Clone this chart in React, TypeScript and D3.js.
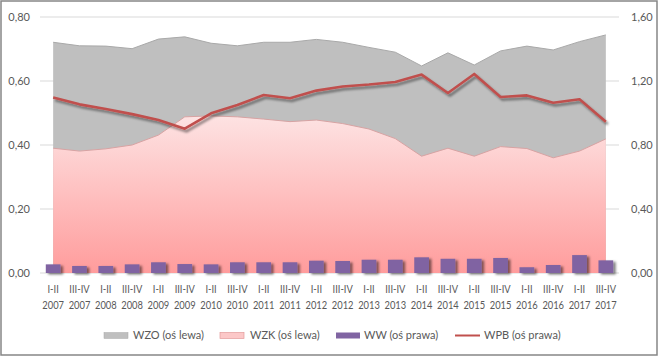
import React from "react";
import * as d3 from "d3";

const periods = ["I-II","III-IV","I-II","III-IV","I-II","III-IV","I-II","III-IV","I-II","III-IV","I-II","III-IV","I-II","III-IV","I-II","III-IV","I-II","III-IV","I-II","III-IV","I-II","III-IV"];
const years = ["2007","2007","2008","2008","2009","2009","2010","2010","2011","2011","2012","2012","2013","2013","2014","2014","2015","2015","2016","2016","2017","2017"];

// left axis
const WZO = [0.721,0.710,0.709,0.701,0.731,0.738,0.718,0.710,0.721,0.721,0.730,0.721,0.705,0.690,0.647,0.688,0.650,0.694,0.709,0.697,0.723,0.744];
const WZK = [0.390,0.381,0.388,0.400,0.431,0.488,0.491,0.488,0.481,0.473,0.478,0.467,0.450,0.420,0.365,0.390,0.365,0.395,0.389,0.360,0.381,0.419];
// right axis
const WW = [0.054,0.044,0.044,0.054,0.067,0.056,0.054,0.067,0.067,0.067,0.077,0.075,0.083,0.083,0.098,0.089,0.089,0.094,0.036,0.050,0.112,0.079];
const WPB = [1.097,1.054,1.025,0.993,0.956,0.902,0.998,1.050,1.112,1.092,1.140,1.166,1.178,1.194,1.240,1.125,1.244,1.100,1.110,1.064,1.086,0.946];

const leftTicks = [0, 0.2, 0.4, 0.6, 0.8];
const rightTicks = [0, 0.4, 0.8, 1.2, 1.6];
const legendLabels = ["WZO (oś lewa)", "WZK (oś lewa)", "WW (oś prawa)", "WPB (oś prawa)"];

const W = 659, H = 357;
const plot = { left: 40, right: 619, top: 17, bottom: 273 };
const FONT = "Lato, 'Open Sans', 'DejaVu Sans', sans-serif";
const TXT = "#595959";

export default function App() {
  const idx = d3.range(periods.length);
  const x = d3.scaleBand<number>().domain(idx).range([plot.left, plot.right]).padding(0);
  const bw = x.bandwidth();
  const cx = (i: number) => (x(i) as number) + bw / 2;
  const yL = d3.scaleLinear().domain([0, 0.8]).range([plot.bottom, plot.top]);
  const yR = d3.scaleLinear().domain([0, 1.6]).range([plot.bottom, plot.top]);
  const fmt = (v: number) => v.toFixed(2).replace(".", ",");

  const areaL = (vals: number[]) =>
    d3.area<number>().x((_, i) => cx(i)).y0(yL(0)).y1((d) => yL(d))(vals) as string;
  const lineTop = (vals: number[]) =>
    d3.line<number>().x((_, i) => cx(i)).y((d) => yL(d))(vals) as string;
  const wpbLine = d3.line<number>().x((_, i) => cx(i)).y((d) => yR(d))(WPB) as string;
  const barW = bw * 0.56;

  const legendX = [104, 220, 336, 455];

  return (
    <div style={{ position: "fixed", left: 0, top: 0, width: W, height: H }}>
      <svg width={W} height={H} style={{ display: "block" }} fontFamily={FONT}>
        <defs>
          <linearGradient id="pinkGrad" gradientUnits="userSpaceOnUse" x1="0" y1={yL(0.5)} x2="0" y2={yL(0)}>
            <stop offset="0" stopColor="#fde4e4" />
            <stop offset="1" stopColor="#ff9c9c" />
          </linearGradient>
          <filter id="shadow" x="-20%" y="-20%" width="150%" height="160%">
            <feDropShadow dx="2" dy="2.5" stdDeviation="1.3" floodColor="#000" floodOpacity="0.45" />
          </filter>
          <filter id="barShadow" x="-30%" y="-30%" width="170%" height="170%">
            <feDropShadow dx="2.5" dy="1.5" stdDeviation="1.2" floodColor="#000" floodOpacity="0.5" />
          </filter>
        </defs>
        <rect x={0} y={0} width={W} height={H} fill="#fff" />
        <rect x={1} y={1} width={W - 3} height={H - 3} fill="none" stroke="#868686" strokeWidth={1.5} />

        {leftTicks.map((t) => (
          <line key={"g" + t} x1={plot.left} x2={plot.right} y1={yL(t)} y2={yL(t)} stroke="#d9d9d9" strokeWidth={1} />
        ))}

        <path d={areaL(WZO)} fill="#bfbfbf" />
        <path d={lineTop(WZO)} fill="none" stroke="#a9a9a9" strokeWidth={1} />
        <path d={areaL(WZK)} fill="url(#pinkGrad)" />
        <path d={lineTop(WZK)} fill="none" stroke="#d7a3a3" strokeWidth={1} />

        {WW.map((v, i) => (
          <rect key={"b" + i} x={cx(i) - barW / 2} y={yR(v)} width={barW} height={yR(0) - yR(v)} fill="#8064a2" filter="url(#barShadow)" />
        ))}

        <path d={wpbLine} fill="none" stroke="#c0504d" strokeWidth={2.6} strokeLinejoin="round" filter="url(#shadow)" />

        {leftTicks.map((t) => (
          <text key={"l" + t} x={30} y={yL(t)} dy="0.35em" textAnchor="end" fontSize={11} fill={TXT}>{fmt(t)}</text>
        ))}
        {rightTicks.map((t) => (
          <text key={"r" + t} x={631} y={yR(t)} dy="0.35em" textAnchor="start" fontSize={11} fill={TXT}>{fmt(t)}</text>
        ))}

        {idx.map((i) => (
          <g key={"x" + i} transform={`translate(${cx(i)},0) scale(0.85,1)`}>
            <text x={0} y={289} dy="0.35em" textAnchor="middle" fontSize={11} fill={TXT}>{periods[i]}</text>
            <text x={0} y={305.5} dy="0.35em" textAnchor="middle" fontSize={11} fill={TXT}>{years[i]}</text>
          </g>
        ))}

        <g fontSize={11} fill={TXT}>
          <rect x={legendX[0]} y={332.5} width={24} height={6} fill="#bfbfbf" stroke="#a9a9a9" strokeWidth={0.5} />
          <text x={legendX[0] + 29} y={335.5} dy="0.35em">{legendLabels[0]}</text>
          <rect x={legendX[1]} y={332.5} width={24} height={6} fill="#fcc8c8" stroke="#e39a9a" strokeWidth={0.7} />
          <text x={legendX[1] + 30} y={335.5} dy="0.35em">{legendLabels[1]}</text>
          <rect x={legendX[2]} y={332.5} width={24} height={6} fill="#8064a2" />
          <text x={legendX[2] + 28} y={335.5} dy="0.35em">{legendLabels[2]}</text>
          <line x1={legendX[3]} x2={legendX[3] + 25} y1={335.5} y2={335.5} stroke="#c0504d" strokeWidth={2} />
          <text x={legendX[3] + 29} y={335.5} dy="0.35em">{legendLabels[3]}</text>
        </g>
      </svg>
    </div>
  );
}
